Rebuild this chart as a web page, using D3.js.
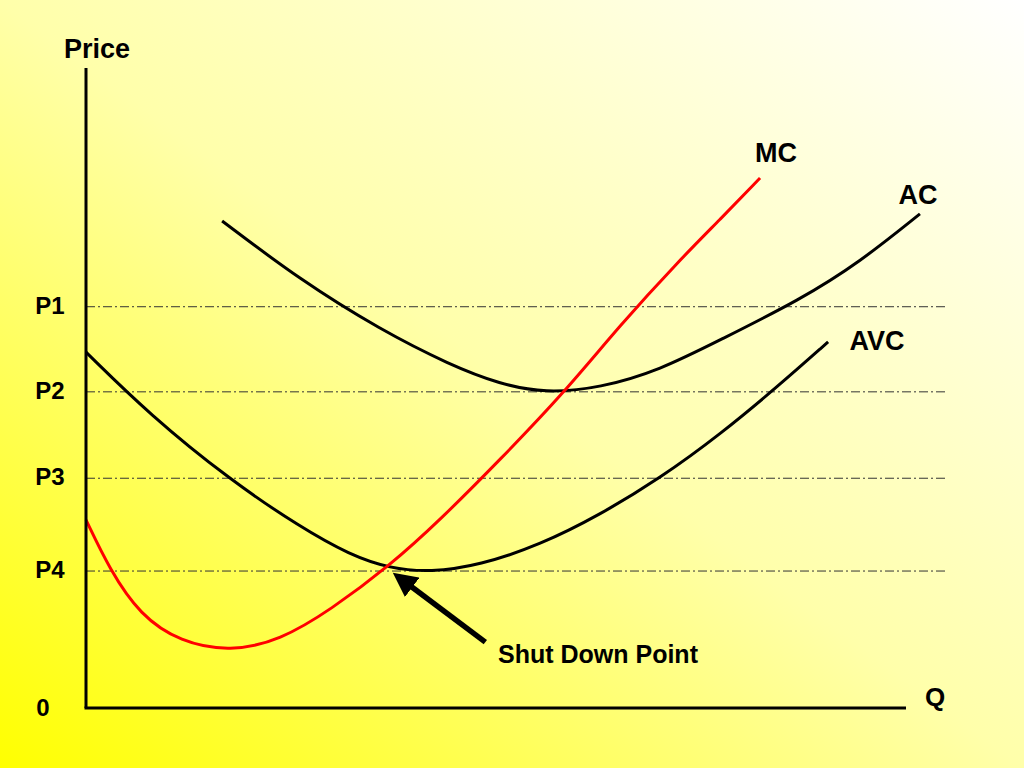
<!DOCTYPE html>
<html>
<head>
<meta charset="utf-8">
<script src="https://cdn.jsdelivr.net/npm/d3@7"></script>
<style>
html,body{margin:0;padding:0;overflow:hidden;}
svg{display:block;}
text{font-family:"Liberation Sans",Arial,sans-serif;font-weight:bold;fill:#000;}
</style>
</head>
<body>
<svg id="chart" width="1024" height="768"></svg>
<script>
// Price levels (data units)
const priceLabels = ["P1", "P2", "P3", "P4"];
const priceValues = [62.7, 49.4, 35.9, 21.4];

// Curves: [Q, Price]
const acQ =   [16.6, 26.1, 35.9, 44.4, 50.5, 56.0, 62.7, 70.0, 77.3, 87.1, 94.4, 101.7];
const acP =   [76.1, 66.9, 59.1, 53.6, 50.6, 49.2, 50.0, 52.8, 57.5, 63.8, 69.7, 77.2];

const avcQ =  [0, 7.8, 17.6, 26.1, 32.2, 37.1, 42.0, 48.0, 55.4, 62.7, 70.0, 77.3, 84.6, 90.5];
const avcP =  [55.6, 45.8, 35.6, 28.3, 23.9, 21.8, 21.2, 22.3, 25.5, 30.2, 35.9, 42.7, 50.5, 57.2];

const mcQ =   [0, 2.9, 6.6, 11.5, 17.6, 23.7, 29.8, 37.1, 43.2, 50.5, 58.4, 65.1, 72.4, 77.3, 82.2];
const mcP =   [29.4, 21.6, 14.5, 10.3, 8.8, 10.6, 15.3, 22.3, 29.4, 38.8, 49.4, 59.8, 70.0, 76.3, 82.8];

const curveNames = ["MC", "AC", "AVC"];
const shutDown = {label: "Shut Down Point", tail: [48.7, 10.3], head: [38.6, 20.0]};

const svg = d3.select("#chart");
const W = 1024, H = 768;

// background gradient
const defs = svg.append("defs");
const grad = defs.append("linearGradient").attr("id","bg")
  .attr("x1","0").attr("y1","1").attr("x2","1").attr("y2","0");
grad.append("stop").attr("offset","0%").attr("stop-color","#ffff00");
grad.append("stop").attr("offset","50%").attr("stop-color","#ffffaa");
grad.append("stop").attr("offset","100%").attr("stop-color","#ffffff");
svg.append("rect").attr("width",W).attr("height",H).attr("fill","url(#bg)");

const marker = defs.append("marker").attr("id","arrow")
  .attr("viewBox","0 0 10 10").attr("refX","5").attr("refY","5")
  .attr("markerWidth","4.4").attr("markerHeight","4.4")
  .attr("orient","auto");
marker.append("path").attr("d","M0,0 L10,5 L0,10 Z").attr("fill","#000");

const x = d3.scaleLinear().domain([0,100]).range([86,906]);
const y = d3.scaleLinear().domain([0,100]).range([708,68]);

// dash-dot price lines
priceValues.forEach((v,i)=>{
  svg.append("line").attr("x1",x(0)).attr("x2",x(104.9))
    .attr("y1",y(v)).attr("y2",y(v))
    .attr("stroke","#333").attr("stroke-width",1)
    .attr("stroke-dasharray","9,3,2,3");
  svg.append("text").attr("x",50).attr("y",y(v)).attr("dy","0.3em")
    .attr("text-anchor","middle").attr("font-size",24).text(priceLabels[i]);
});

const line = d3.line().x(d=>x(d[0])).y(d=>y(d[1])).curve(d3.curveBasis);
const zip = (a,b)=>a.map((q,i)=>[q,b[i]]);

svg.append("path").datum(zip(acQ,acP)).attr("d",line)
  .attr("fill","none").attr("stroke","#000").attr("stroke-width",3);
svg.append("path").datum(zip(avcQ,avcP)).attr("d",line)
  .attr("fill","none").attr("stroke","#000").attr("stroke-width",3);
svg.append("path").datum(zip(mcQ,mcP)).attr("d",line)
  .attr("fill","none").attr("stroke","#ff0000").attr("stroke-width",3);

// axes
svg.append("line").attr("x1",x(0)).attr("x2",x(0)).attr("y1",y(100)).attr("y2",y(0))
  .attr("stroke","#000").attr("stroke-width",3);
svg.append("line").attr("x1",x(0)-1.5).attr("x2",x(100)).attr("y1",y(0)).attr("y2",y(0))
  .attr("stroke","#000").attr("stroke-width",3);

// arrow
svg.append("line")
  .attr("x1",x(shutDown.tail[0])).attr("y1",y(shutDown.tail[1]))
  .attr("x2",x(shutDown.head[0])).attr("y2",y(shutDown.head[1]))
  .attr("stroke","#000").attr("stroke-width",5.5).attr("marker-end","url(#arrow)");

// labels
svg.append("text").attr("x",97).attr("y",58).attr("text-anchor","middle").attr("font-size",27).text("Price");
svg.append("text").attr("x",43).attr("y",716).attr("text-anchor","middle").attr("font-size",24).text("0");
svg.append("text").attr("x",935).attr("y",706).attr("text-anchor","middle").attr("font-size",26).text("Q");
const lblPos = [[776,162],[918,204],[877,350]];
curveNames.forEach((n,i)=>{
  svg.append("text").attr("x",lblPos[i][0]).attr("y",lblPos[i][1])
    .attr("text-anchor","middle").attr("font-size",27).text(n);
});
svg.append("text").attr("x",498).attr("y",663).attr("font-size",25).text(shutDown.label);
</script>
</body>
</html>
